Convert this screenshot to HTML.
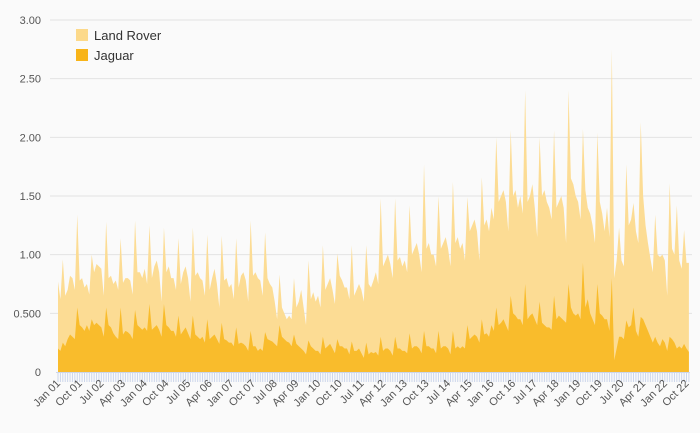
<!DOCTYPE html>
<html><head><meta charset="utf-8">
<style>
html,body{margin:0;padding:0;background:#fff;}
svg{display:block;font-family:"Liberation Sans",sans-serif;}
</style></head>
<body>
<svg id="chart" width="700" height="433" viewBox="0 0 700 433" xmlns="http://www.w3.org/2000/svg">
<rect x="0" y="0" width="700" height="433" fill="#fafafa"/>
<g id="grid"></g>
<g id="yaxis"></g>
<g id="series"></g>
<g id="xaxis"></g>
<g>
  <g>
    <rect x="76" y="29" width="12" height="12" fill="#fcd98a"/>
    <text x="94" y="40" font-size="13" fill="#333">Land Rover</text>
  </g>
  <g>
    <rect x="76" y="49" width="12" height="12" fill="#f8b418"/>
    <text x="94" y="60" font-size="13" fill="#333">Jaguar</text>
  </g>
</g>
</svg>
<script>
const years = ["01","02","03","04","05","06","07","08","09","10","11","12","13","14","15","16","17","18","19","20","21","22"];
const monthNames = ["Jan","Feb","Mar","Apr","May","Jun","Jul","Aug","Sep","Oct","Nov","Dec"];
const yTicks = [0,0.5,1,1.5,2,2.5,3];
const yTickLabels = ["0","0.500","1.00","1.50","2.00","2.50","3.00"];
const landRover = [
.77,.62,.96,.65,.70,.82,.80,.70,1.34,.78,.80,.72,
.75,.66,1.00,.85,.92,.90,.88,.65,1.28,.80,.82,.75,
.78,.70,1.14,.76,.80,.80,.78,.66,1.29,.85,.85,.80,
.88,.75,1.25,.80,.90,.95,.85,.60,1.23,.85,.90,.80,
.80,.70,1.14,.75,.85,.90,.80,.60,1.23,.82,.85,.80,
.78,.65,1.17,.70,.80,.88,.75,.55,1.16,.78,.80,.72,
.75,.62,1.14,.72,.82,.85,.78,.60,1.29,.82,.85,.80,
.78,.65,1.19,.80,.75,.72,.60,.45,.83,.55,.50,.45,
.48,.45,.80,.55,.60,.70,.55,.40,.95,.62,.68,.60,
.65,.55,1.08,.70,.75,.80,.70,.58,1.01,.82,.78,.72,
.72,.62,1.08,.65,.70,.75,.70,.60,1.08,.75,.72,.78,
.85,.75,1.48,.90,.95,1.00,.92,.80,1.48,.95,.98,.90,
.95,.85,1.42,1.00,1.05,1.10,1.00,.85,1.77,1.05,1.10,1.00,
1.00,.90,1.50,1.05,1.10,1.15,1.05,.90,1.62,1.10,1.15,1.05,
1.10,.95,1.49,1.20,1.25,1.30,1.20,.95,1.66,1.25,1.30,1.20,
1.40,1.30,2.00,1.45,1.50,1.55,1.45,1.20,2.06,1.50,1.55,1.40,
1.50,1.35,2.40,1.45,1.50,1.60,1.40,1.15,2.00,1.50,1.55,1.45,
1.40,1.30,2.06,1.40,1.45,1.50,1.40,1.10,2.40,1.65,1.60,1.50,
1.45,1.30,2.07,1.55,1.40,1.35,1.25,1.10,2.04,1.45,1.35,1.20,
1.40,1.15,2.75,0.80,0.95,1.23,0.95,0.90,1.77,1.25,1.30,1.44,
1.20,1.10,2.13,1.50,1.25,1.10,0.97,0.85,1.34,1.00,0.98,1.00,
0.95,0.65,1.61,1.05,1.00,1.42,0.95,0.88,1.21,0.93,0.93];
const jaguar = [
.20,.18,.25,.22,.28,.32,.30,.28,.55,.40,.38,.35,
.40,.35,.45,.40,.42,.40,.38,.30,.55,.40,.38,.33,
.30,.28,.55,.32,.35,.34,.32,.28,.53,.40,.38,.36,
.38,.35,.58,.36,.38,.40,.36,.30,.58,.40,.38,.35,
.35,.30,.48,.32,.35,.38,.33,.28,.48,.32,.30,.28,
.30,.25,.45,.28,.30,.32,.28,.24,.42,.28,.27,.25,
.25,.22,.38,.24,.25,.24,.22,.18,.35,.22,.22,.18,
.20,.18,.34,.28,.27,.26,.24,.22,.40,.30,.28,.26,
.25,.22,.32,.24,.22,.20,.18,.15,.27,.22,.20,.18,
.18,.15,.30,.20,.22,.24,.20,.16,.28,.22,.22,.20,
.20,.15,.26,.18,.18,.20,.16,.12,.25,.15,.17,.16,
.17,.14,.30,.18,.20,.20,.18,.14,.30,.20,.20,.18,
.18,.16,.33,.20,.22,.22,.20,.16,.35,.22,.22,.20,
.20,.16,.35,.20,.22,.22,.20,.15,.35,.20,.22,.20,
.22,.20,.40,.28,.30,.32,.30,.25,.45,.32,.33,.30,
.40,.35,.55,.40,.42,.45,.40,.35,.65,.50,.48,.45,
.45,.40,.75,.45,.48,.50,.45,.40,.60,.42,.40,.38,
.38,.36,.65,.45,.48,.46,.44,.42,.75,.55,.50,.48,
.50,.45,.93,.55,.62,.50,.45,.40,.75,.50,.48,.45,
.45,.35,.80,.10,.20,.30,.30,.28,.44,.38,.40,.55,
.35,.30,.47,.45,.40,.35,.30,.25,.30,.25,.22,.28,
.25,.18,.30,.28,.25,.20,.22,.20,.24,.20,.17];

const NS = "http://www.w3.org/2000/svg";
const X0 = 58, STEP = 2.408, Y0 = 372, YPX = 117.33;
function xs(i){ return X0 + i*STEP; }
function ys(v){ return Y0 - v*YPX; }
function mk(tag, attrs, parent){ const e=document.createElementNS(NS,tag); for(const k in attrs) e.setAttribute(k,attrs[k]); parent.appendChild(e); return e; }

const grid=document.getElementById('grid'), yaxis=document.getElementById('yaxis');
yTicks.forEach((t,k)=>{
  if(t>0){
    const l=mk('line',{x1:50,x2:692,y1:ys(t),y2:ys(t),stroke:'#e3e3e3','stroke-width':1},grid);
    
    
  }
  const tx=mk('text',{x:41,y:ys(t)+4,'text-anchor':'end','font-size':11,fill:'#555'},yaxis);
  tx.textContent=yTickLabels[k];
  
  
});

const series=document.getElementById('series');
function area(vals,color,name){
  let d='M'+xs(0)+','+Y0;
  vals.forEach((v,i)=>{ d+=' L'+xs(i).toFixed(2)+','+ys(v).toFixed(2); });
  d+=' L'+xs(vals.length-1).toFixed(2)+','+Y0+' Z';
  const p=mk('path',{d:d,fill:color},series);
  
  
}
area(landRover,'#fcdc94','area-land-rover');
area(jaguar,'#f9bc2c','area-jaguar');

const xaxis=document.getElementById('xaxis');
const n=landRover.length;
const ax=mk('line',{x1:56,x2:xs(n-1)+1,y1:Y0+0.5,y2:Y0+0.5,stroke:'#ccd6eb','stroke-width':1},xaxis);


for(let i=0;i<n;i++){
  const t=mk('line',{x1:xs(i),x2:xs(i),y1:Y0,y2:Y0+10,stroke:'#ccd6eb','stroke-width':1},xaxis);
  
  
  if(i%9===0){
    const lbl=monthNames[i%12]+' '+years[Math.floor(i/12)];
    const x=xs(i)+3, y=Y0+12;
    const tx=mk('text',{x:x,y:y,'text-anchor':'end','font-size':11,fill:'#555',transform:'rotate(-45 '+x+' '+y+')'},xaxis);
    tx.textContent=lbl;
    
    
  }
}
</script>
</body></html>
